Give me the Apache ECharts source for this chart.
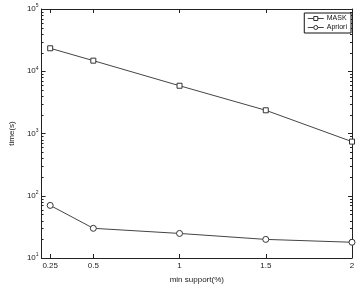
<!DOCTYPE html>
<html><head><meta charset="utf-8">
<script src="https://cdn.jsdelivr.net/npm/echarts@6/dist/echarts.min.js"></script>
<style>html,body{margin:0;padding:0;background:#fff}#c{width:360px;height:289px}</style>
</head><body><div id="c"></div>
<script>
var supports = [0.25, 0.5, 1, 1.5, 2];
var maskTimes = [23400, 14800, 5850, 2360, 740];
var aprioriTimes = [70, 30, 24.8, 19.9, 17.9];
var xTickLabels = ['0.25', '0.5', '1', '1.5', '2'];
var minorTickValues = [];
[10, 100, 1000, 10000].forEach(function (d) { for (var m = 2; m <= 9; m++) minorTickValues.push(m * d); });

var FONT = '"Liberation Sans", Arial, sans-serif';
var AX = '#222';
var chart = echarts.init(document.getElementById('c'), null, {renderer: 'canvas'});
var xCommon = {
  type: 'value', min: 0.2, max: 2,
  axisLine: {lineStyle: {color: AX, width: 1}},
  splitLine: {show: false},
  axisTick: {inside: true, length: 4, lineStyle: {color: AX}, customValues: supports}
};
var yCommon = {
  type: 'log', logBase: 10, min: 10, max: 100000, splitNumber: 4,
  axisLine: {lineStyle: {color: AX, width: 1}},
  splitLine: {show: false},
  axisTick: {inside: true, length: 4, lineStyle: {color: AX}}
};
chart.setOption({
  animation: false,
  grid: {left: 32, right: 8, top: 9, bottom: 26, containLabel: false},
  legend: {
    data: ['MASK', 'Apriori'], orient: 'vertical', right: 9, top: 13,
    borderColor: '#111', borderWidth: 1, backgroundColor: '#fff',
    padding: [2, 4, 2, 3], itemGap: 2, itemWidth: 16, itemHeight: 5,
    lineStyle: {width: 1, color: '#444'},
    itemStyle: {color: '#fff', borderColor: '#333', borderWidth: 1},
    textStyle: {fontSize: 7, fontFamily: FONT, color: '#111', padding: [0, 0, 0, -2]}
  },
  xAxis: [
    Object.assign({}, xCommon, {
      position: 'bottom',
      name: 'min support(%)', nameLocation: 'middle', nameGap: 18,
      nameTextStyle: {fontSize: 8, fontFamily: FONT, color: '#222'},
      axisLabel: {fontSize: 8, fontFamily: FONT, color: '#222', margin: 4,
        customValues: supports,
        formatter: function (v) { return xTickLabels[supports.indexOf(v)] || String(v); }}
    }),
    Object.assign({}, xCommon, {position: 'top', axisLabel: {show: false}})
  ],
  yAxis: [
    Object.assign({}, yCommon, {
      position: 'left',
      name: 'time(s)', nameLocation: 'middle', nameGap: 24, nameRotate: 90,
      nameTextStyle: {fontSize: 8, fontFamily: FONT, color: '#222'},
      axisLabel: {
        margin: 3, fontFamily: FONT, color: '#222',
        formatter: function (v) { return '{b|10}{s|' + Math.round(Math.log10(v)) + '}'; },
        rich: {b: {fontSize: 8, fontFamily: FONT, color: '#222'},
               s: {fontSize: 5, fontFamily: FONT, color: '#222', padding: [0, 0, 6, 0]}}
      }
    }),
    Object.assign({}, yCommon, {position: 'right', axisLabel: {show: false}})
  ],
  series: [
    {
      name: 'MASK', type: 'line', xAxisIndex: 0, yAxisIndex: 0,
      data: supports.map(function (s, i) { return [s, maskTimes[i]]; }),
      symbol: 'rect', symbolSize: 5,
      lineStyle: {color: '#444', width: 1},
      itemStyle: {color: '#fff', borderColor: '#333', borderWidth: 1}
    },
    {
      name: 'Apriori', type: 'line', xAxisIndex: 0, yAxisIndex: 0,
      data: supports.map(function (s, i) { return [s, aprioriTimes[i]]; }),
      symbol: 'circle', symbolSize: 6,
      lineStyle: {color: '#444', width: 1},
      itemStyle: {color: '#fff', borderColor: '#333', borderWidth: 1}
    },
    {
      name: 'minorTicks', type: 'custom', xAxisIndex: 0, yAxisIndex: 0, silent: true,
      data: minorTickValues.map(function (v) { return [0.2, v]; }),
      renderItem: function (params, api) {
        var cs = params.coordSys;
        var y = Math.round(api.coord([0.2, api.value(1)])[1]) + 0.5;
        return {type: 'group', children: [
          {type: 'line', shape: {x1: cs.x, y1: y, x2: cs.x + 2, y2: y}, style: {stroke: AX, lineWidth: 1}},
          {type: 'line', shape: {x1: cs.x + cs.width - 2, y1: y, x2: cs.x + cs.width, y2: y}, style: {stroke: AX, lineWidth: 1}}
        ]};
      }
    }
  ]
});
</script></body></html>
